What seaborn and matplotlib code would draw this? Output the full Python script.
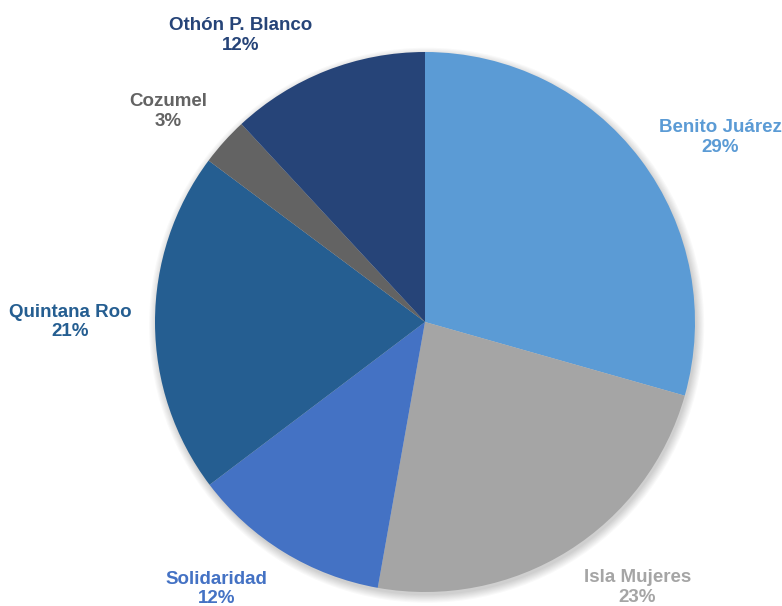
import numpy as np
import matplotlib
matplotlib.use("Agg")
import matplotlib.pyplot as plt
from matplotlib.patches import Circle
import seaborn as sns

sns.set_theme(style="white")
plt.rcParams['font.family'] = ['Liberation Sans', 'DejaVu Sans']

categories = ["Benito Juárez", "Isla Mujeres", "Solidaridad", "Quintana Roo", "Cozumel", "Othón P. Blanco"]
values = [29.4, 23.4, 11.9, 20.5, 2.9, 11.9]
colors = ["#5B9BD5", "#A5A5A5", "#4472C4", "#255E91", "#636363", "#264478"]

# label placement (angle in degrees, radial distance) for each category
label_pos = [(32, 1.29), (-51.4, 1.26), (-128, 1.255), (180, 1.315), (140.7, 1.23), (122.8, 1.263)]

W, H = 782, 606
cx, cy, R = 425, 322, 270
fig = plt.figure(figsize=(W / 100, H / 100), dpi=100)
ax = fig.add_axes([0, 0, 1, 1])

# soft shadow under the pie
for i in range(8):
    ax.add_patch(Circle((0.006, -0.012), 1.0 + 0.004 * i, color='black',
                        alpha=0.025, lw=0, zorder=0))

wedges, _ = ax.pie(values, colors=colors, startangle=90, counterclock=False,
                   radius=1.0, wedgeprops=dict(linewidth=0, zorder=2))
ax.set_xlim(-cx / R, (W - cx) / R)
ax.set_ylim(-(H - cy) / R, cy / R)
ax.set_aspect('auto')
ax.axis('off')

total = sum(values)
for cat, v, col, (ang, dist) in zip(categories, values, colors, label_pos):
    a = np.deg2rad(ang)
    pct = int(np.floor(100 * v / total + 0.5))
    ax.text(dist * np.cos(a), dist * np.sin(a), f"{cat}\n{pct}%", ha='center', va='center',
            color=col, fontsize=13.5, fontweight='bold', linespacing=1.22, zorder=3)

fig.savefig("out.png", dpi=100)
